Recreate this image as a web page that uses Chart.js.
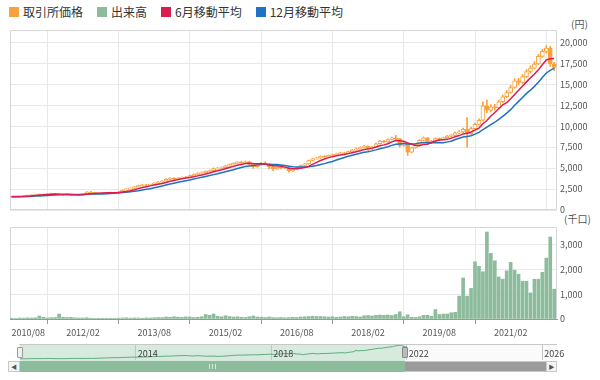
<!DOCTYPE html>
<html lang="ja"><head><meta charset="utf-8">
<script src="https://cdn.jsdelivr.net/npm/chart.js@4.4.1/dist/chart.umd.min.js"></script>
<style>
html,body{margin:0;padding:0;background:#fff}
body{width:600px;height:380px;position:relative;overflow:hidden;font-family:"Noto Sans CJK JP","Noto Sans",sans-serif}
canvas{position:absolute;left:0}
#c1{top:20px}#c2{top:215px}#c3{top:340px;z-index:2}
#legend{position:absolute;left:9px;top:4px;display:flex;font-size:12px;color:#333;line-height:16px;white-space:nowrap}
#legend .it{display:flex;align-items:center;margin-right:14px}
#legend .sw{width:10px;height:10px;margin-right:4px}
.unit{position:absolute;font-size:10px;color:#555;line-height:12px}
.abs{position:absolute;box-sizing:border-box}
</style></head><body>
<div id="legend"></div>
<div class="unit" style="left:571px;top:18px">(円)</div>
<div class="unit" style="left:564px;top:213px">(千口)</div>
<div class="abs" style="left:19px;top:344px;width:538px;height:17px;border-top:1px solid #c8c8c8;background:#fafafa"></div>
<div class="abs" style="left:20px;top:345px;width:385px;height:16px;background:#d6eadd"></div>
<div class="abs" style="left:17px;top:347px;width:6px;height:11px;background:#f0f0f0;border:1px solid #999;border-radius:1px;z-index:3"></div>
<div class="abs" style="left:402px;top:347px;width:6px;height:11px;background:#bbb;border:1px solid #888;border-radius:1px;z-index:3"></div>
<div class="abs" style="left:8px;top:361px;width:549px;height:11px;background:#9b9b9b;border:1px solid #c8c8c8"></div>
<div class="abs" style="left:20px;top:361px;width:385px;height:11px;background:#8dbc9d"></div>
<div class="abs" style="left:8px;top:361px;width:12px;height:11px;background:#f4f4f4;border:1px solid #c8c8c8;font-size:6px;line-height:9px;text-align:center;color:#555">◀</div>
<div class="abs" style="left:546px;top:361px;width:11px;height:11px;background:#f4f4f4;border:1px solid #c8c8c8;font-size:6px;line-height:9px;text-align:center;color:#555">▶</div>
<div class="abs" style="left:209px;top:364px;width:7px;height:5px;border-left:1px solid #d8e8dd;border-right:1px solid #d8e8dd"></div>
<div class="abs" style="left:212px;top:364px;width:1px;height:5px;background:#d8e8dd"></div>
<canvas id="c1" width="600" height="195"></canvas>
<canvas id="c2" width="600" height="125"></canvas>
<canvas id="c3" width="600" height="22"></canvas>
<script>
// ---- data (monthly, 2010/08 - 2022/01) ----
const START_YEAR = 2010, START_MONTH = 8;
const months = [];
for (let i = 0; i < 138; i++) {
  const t = (START_MONTH - 1) + i;
  months.push((START_YEAR + Math.floor(t / 12)) + '/' + String(t % 12 + 1).padStart(2, '0'));
}
const OPEN = [1500,1550,1580,1620,1700,1760,1800,1880,1820,1860,1900,1960,
1940,1820,1800,1760,1740,1780,1830,1950,2150,2100,1980,2020,
2040,2060,2090,2100,2180,2350,2500,2600,2750,2900,3000,2950,
3050,3200,3350,3450,3650,3800,3700,3800,3900,3950,4100,4250,
4400,4450,4600,4700,4950,5000,5050,5250,5400,5550,5700,5650,
5750,5450,5150,5450,5600,5450,5150,4900,5100,5000,5050,4650,
4850,5000,5300,5500,5900,6100,6200,6400,6350,6500,6600,6700,
6800,6750,6950,7150,7300,7450,7600,7250,7500,7900,8200,8100,
8400,8600,8500,7700,7900,6900,7400,7800,8300,8600,8000,8200,
8500,8400,8600,8800,8900,9200,9300,9600,9100,9700,10200,10700,
12400,11900,12300,12200,12900,13500,14000,14600,15400,15200,15900,16500,
16900,17400,18300,18900,19300,17400];
const HIGH = [1580,1610,1650,1730,1790,1840,1920,1900,1890,1930,2000,1990,
1960,1850,1830,1790,1810,1860,1980,2200,2220,2120,2060,2080,
2100,2130,2140,2220,2390,2550,2650,2800,2960,3080,3060,3100,
3250,3400,3520,3700,3860,3850,3860,3960,4020,4160,4310,4460,
4540,4670,4780,5020,5100,5150,5320,5480,5630,5780,5800,5850,
5820,5500,5520,5680,5750,5500,5200,5180,5200,5150,5100,4920,
5080,5360,5580,5960,6180,6280,6460,6480,6570,6680,6780,6880,
6900,7020,7230,7380,7540,7720,7650,7580,7980,8300,8300,8480,
8700,8900,8550,8100,8000,7500,7900,8400,8700,8650,8300,8600,
8600,8700,8900,9000,9300,9450,9750,11000,9850,10350,10850,12900,
13100,12550,12600,13100,13700,14250,14850,15650,15700,16150,16750,17200,
17700,18550,19150,19600,19500,17600];
const LOW = [1480,1530,1560,1600,1680,1740,1780,1780,1800,1840,1880,1900,
1760,1750,1720,1700,1710,1760,1810,1930,2060,1940,1950,1990,
2010,2030,2050,2070,2160,2320,2460,2570,2720,2860,2880,2910,
3010,3160,3300,3420,3610,3620,3660,3750,3850,3910,4050,4200,
4330,4400,4520,4660,4880,4920,5000,5200,5350,5500,5560,5580,
5350,4950,5100,5400,5380,4900,4700,4850,4900,4920,4500,4600,
4800,4960,5250,5450,5850,6040,6150,6250,6300,6450,6550,6650,
6650,6700,6900,7100,7250,7400,7050,7150,7450,7850,8000,8050,
8350,8400,7500,7600,6500,6800,7350,7750,8250,7850,7900,8150,
8200,8350,8550,8700,8850,9100,9200,7500,9000,9600,10100,10600,
11600,11700,11900,12100,12800,13400,13900,14500,14900,15100,15800,16300,
16800,17300,18200,18700,17100,16600];
const CLOSE = [1550,1580,1620,1700,1760,1800,1880,1820,1860,1900,1960,1940,
1820,1800,1760,1740,1780,1830,1950,2150,2100,1980,2020,2040,
2060,2090,2100,2180,2350,2500,2600,2750,2900,3000,2950,3050,
3200,3350,3450,3650,3800,3700,3800,3900,3950,4100,4250,4400,
4450,4600,4700,4950,5000,5050,5250,5400,5550,5700,5650,5750,
5450,5150,5450,5600,5450,5150,4900,5100,5000,5050,4650,4850,
5000,5300,5500,5900,6100,6200,6400,6350,6500,6600,6700,6800,
6750,6950,7150,7300,7450,7600,7250,7500,7900,8200,8100,8400,
8600,8500,7700,7900,6900,7400,7800,8300,8600,8000,8200,8500,
8400,8600,8800,8900,9200,9300,9600,9100,9700,10200,10700,12400,
11900,12300,12200,12900,13500,14000,14600,15400,15200,15900,16500,16900,
17400,18300,18900,19300,17400,17000];
const MA6 = [1592,1588,1592,1608,1635,1668,1723,1763,1803,1837,1870,1893,
1883,1880,1863,1837,1807,1788,1810,1868,1925,1965,2005,2040,
2058,2048,2048,2082,2137,2213,2303,2413,2547,2683,2783,2875,
2975,3075,3167,3275,3417,3525,3625,3717,3800,3875,3950,4067,
4175,4292,4417,4558,4683,4792,4925,5058,5200,5325,5433,5550,
5583,5542,5525,5508,5475,5375,5283,5275,5200,5108,4975,4925,
4942,4975,5058,5200,5442,5667,5900,6075,6242,6358,6458,6558,
6617,6717,6825,6942,7067,7200,7283,7375,7500,7650,7758,7892,
8117,8283,8250,8200,8000,7833,7700,7667,7817,7833,8050,8233,
8333,8383,8417,8567,8733,8867,9067,9150,9300,9517,9767,10283,
10667,11200,11617,12067,12533,12800,13250,13767,14267,14767,15267,15750,
16217,16700,17317,17883,18033,18050];
const MA12 = [1596,1594,1596,1604,1618,1634,1658,1676,1698,1723,1753,1781,
1803,1822,1833,1837,1838,1841,1847,1874,1894,1901,1906,1914,
1934,1958,1987,2023,2071,2127,2181,2231,2298,2383,2460,2544,
2639,2744,2857,2979,3100,3200,3300,3396,3483,3575,3683,3796,
3900,4004,4108,4217,4317,4429,4550,4675,4808,4942,5058,5171,
5254,5300,5363,5417,5454,5463,5433,5408,5363,5308,5225,5150,
5113,5125,5129,5154,5208,5296,5421,5525,5650,5779,5950,6113,
6258,6396,6533,6650,6763,6879,6950,7046,7163,7296,7413,7546,
7700,7829,7875,7925,7879,7863,7908,7975,8033,8017,8025,8033,
8017,8025,8117,8200,8392,8550,8700,8767,8858,9042,9250,9575,
9867,10175,10458,10792,11150,11542,11958,12483,12942,13417,13900,14275,
14733,15233,15792,16325,16650,16900];
const VOLUME = [30,25,40,35,45,40,50,120,70,40,55,60,
200,70,60,65,45,40,40,50,30,15,10,10,
15,10,30,35,40,50,35,45,40,30,45,40,
50,60,55,80,70,90,75,65,85,80,60,70,
90,180,150,200,110,90,130,100,80,90,70,60,
90,120,80,70,60,80,55,50,60,50,55,70,
60,80,90,100,110,100,100,90,80,90,70,80,
100,90,110,100,80,130,140,120,150,160,150,160,
140,180,290,90,170,70,60,90,150,150,110,380,
180,200,200,250,270,920,1650,920,1230,2300,2120,1900,
3500,2640,2340,1690,1600,1935,2280,1960,1800,1520,1520,1050,
1600,1600,1880,2450,3300,1200];
const X_TICK_INDEX = [0,18,36,54,72,90,108,126];      // 2010/08 ... 2021/02
const PRICE_TICKS = [0,2500,5000,7500,10000,12500,15000,17500,20000];
const VOLUME_TICKS = [0,1000,2000,3000];
const NAV_TICK_INDEX = [41,89,137,185];
const NAV_TICK_LABELS = ['2014','2018','2022','2026'];
const SERIES_NAMES = ['取引所価格','出来高','6月移動平均','12月移動平均'];

const ORANGE = '#f7a23d', GREEN = '#8dbc9d', RED = '#dc1c4f', BLUE = '#1f72c4';
const SERIES_COLORS = [ORANGE, GREEN, RED, BLUE];
const GRID = '#e8e8e8', TXT = '#555';
const FONT = '"Noto Sans CJK JP","Noto Sans",sans-serif';

// legend (html text)
const lg = document.getElementById('legend');
SERIES_NAMES.forEach((n, i) => {
  const it = document.createElement('div'); it.className = 'it';
  const sw = document.createElement('div'); sw.className = 'sw'; sw.style.background = SERIES_COLORS[i];
  const tx = document.createElement('span'); tx.textContent = n;
  it.appendChild(sw); it.appendChild(tx); lg.appendChild(it);
});

Chart.defaults.font.family = FONT;
const XMIN = -0.4, XMAX = 137.7;
const noPad = s => { s.paddingLeft = 0; s.paddingRight = 0; s.paddingTop = 0; s.paddingBottom = 0; };
const fmt = v => Number(v).toLocaleString('en-US');
const setTicks = arr => s => { s.ticks = arr.map(v => ({ value: v })); };

function framePlugin(color, bottom) {
  return { id: 'frame', beforeDatasetsDraw(chart) {
    const { ctx, chartArea: a } = chart;
    const L = Math.round(a.left) + 0.5, R = Math.round(a.right) - 0.5, T = Math.round(a.top) + 0.5, B = Math.round(a.bottom) - 0.5;
    ctx.save(); ctx.strokeStyle = color; ctx.lineWidth = 1; ctx.beginPath();
    ctx.moveTo(L, B); ctx.lineTo(L, T); ctx.lineTo(R, T); ctx.lineTo(R, B);
    if (bottom) ctx.lineTo(L, B);
    ctx.stroke(); ctx.restore();
  } };
}
const base = { responsive: false, animation: false, devicePixelRatio: 1,
  plugins: { legend: { display: false }, tooltip: { enabled: false } } };

// ---- price chart ----
new Chart(document.getElementById('c1'), {
  type: 'bar',
  data: { datasets: [
    { type: 'line', label: SERIES_NAMES[2], data: MA6.map((v, i) => ({ x: i, y: v })),
      borderColor: RED, borderWidth: 1.5, pointRadius: 0, tension: 0, order: 0 },
    { type: 'line', label: SERIES_NAMES[3], data: MA12.map((v, i) => ({ x: i, y: v })),
      borderColor: BLUE, borderWidth: 1.5, pointRadius: 0, tension: 0, order: 0 },
    { label: SERIES_NAMES[0], data: OPEN.map((o, i) => ({ x: i, y: [Math.min(o, CLOSE[i]), Math.max(o, CLOSE[i])] })),
      backgroundColor: OPEN.map((o, i) => CLOSE[i] >= o ? '#ffffff' : ORANGE),
      borderColor: ORANGE, borderWidth: 1, borderSkipped: false, barThickness: 4, grouped: false, order: 1 },
    { label: 'wick', data: HIGH.map((h, i) => ({ x: i, y: [LOW[i], h] })),
      backgroundColor: ORANGE, borderWidth: 0, barThickness: 1, grouped: false, order: 2 }
  ] },
  options: { ...base,
    layout: { padding: { top: 10, left: 10, right: 0, bottom: 5 } },
    scales: {
      x: { type: 'linear', min: XMIN, max: XMAX, offset: false,
        afterBuildTicks: setTicks(X_TICK_INDEX),
        afterFit: s => { s.height = 0; noPad(s); },
        ticks: { display: false }, grid: { color: GRID, drawTicks: false }, border: { display: false } },
      y: { position: 'right', min: 0, max: 21450,
        afterBuildTicks: setTicks(PRICE_TICKS),
        afterFit: s => { s.width = 43; noPad(s); },
        ticks: { padding: 3, color: TXT, font: { size: 9 }, callback: fmt },
        grid: { color: GRID, drawTicks: false }, border: { display: false } }
    } },
  plugins: [framePlugin('#d6d6d6', true)]
});

// ---- volume chart ----
new Chart(document.getElementById('c2'), {
  type: 'bar',
  data: { datasets: [
    { label: SERIES_NAMES[1], data: VOLUME.map((v, i) => ({ x: i, y: v })),
      backgroundColor: GREEN, barThickness: 3, grouped: false }
  ] },
  options: { ...base,
    layout: { padding: { top: 12, left: 10, right: 0, bottom: 0 } },
    scales: {
      x: { type: 'linear', min: XMIN, max: XMAX, offset: false,
        afterBuildTicks: setTicks(X_TICK_INDEX.concat([XMAX])),
        afterFit: s => { s.height = 21; noPad(s); },
        ticks: { autoSkip: false, maxRotation: 0, align: 'inner', padding: 3, color: TXT, font: { size: 9 },
          callback: v => X_TICK_INDEX.includes(v) ? months[v] : '' },
        grid: { color: c => (c.tick && c.tick.value === XMAX) ? 'rgba(0,0,0,0)' : GRID,
                tickColor: c => (c.tick && c.tick.value === XMAX) ? 'rgba(0,0,0,0)' : '#999', tickLength: 5 },
        border: { display: true, color: '#999' } },
      y: { position: 'right', min: 0, max: 3700,
        afterBuildTicks: setTicks(VOLUME_TICKS),
        afterFit: s => { s.width = 43; noPad(s); },
        ticks: { padding: 3, color: TXT, font: { size: 9 }, callback: fmt },
        grid: { color: GRID, drawTicks: false }, border: { display: false } }
    } },
  plugins: [framePlugin('#d6d6d6', false)]
});

// ---- navigator ----
const navLabels = { id: 'navLabels', afterDraw(chart) {
  const { ctx, scales: { x }, chartArea: a } = chart;
  ctx.save(); ctx.fillStyle = '#444'; ctx.font = '9px ' + FONT; ctx.textBaseline = 'middle'; ctx.textAlign = 'left';
  NAV_TICK_INDEX.forEach((v, k) => ctx.fillText(NAV_TICK_LABELS[k], x.getPixelForValue(v) + 2, (a.top + a.bottom) / 2 + 1));
  ctx.restore();
} };
new Chart(document.getElementById('c3'), {
  type: 'line',
  data: { datasets: [
    { label: 'nav', data: CLOSE.map((v, i) => ({ x: i, y: v })), borderColor: '#5eab80', borderWidth: 1,
      pointRadius: 0, tension: 0, fill: false }
  ] },
  options: { ...base,
    layout: { padding: { top: 5, left: 20, right: 43, bottom: 2 } },
    scales: {
      x: { type: 'linear', min: 0, max: 190.2,
        afterBuildTicks: setTicks(NAV_TICK_INDEX),
        afterFit: s => { s.height = 0; noPad(s); },
        ticks: { display: false },
        grid: { color: '#c4c4c4', drawTicks: false }, border: { display: false } },
      y: { display: false, min: 0, max: 19500 }
    } },
  plugins: [navLabels]
});
</script>
</body></html>
